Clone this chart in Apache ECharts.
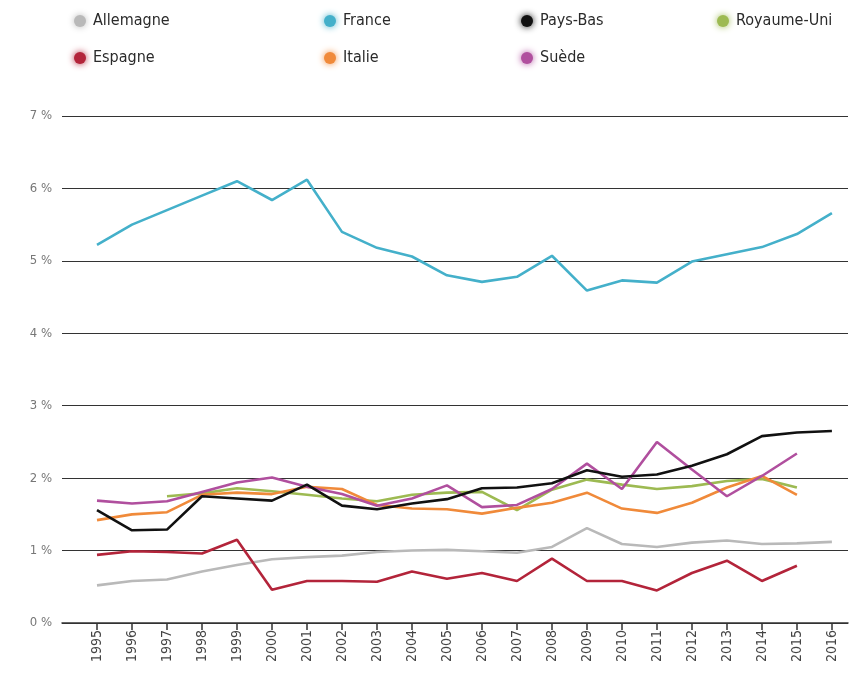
<!DOCTYPE html>
<html>
<head>
<meta charset="utf-8">
<script src="https://cdn.jsdelivr.net/npm/echarts@6/dist/echarts.min.js"></script>
<style>
  html, body { margin: 0; padding: 0; background: #fff; }
  #chart { width: 855px; height: 680px; }
</style>
</head>
<body>
<div id="chart"></div>
<script>
(function () {
  "use strict";

  var YEARS = [1995, 1996, 1997, 1998, 1999, 2000, 2001, 2002, 2003, 2004, 2005,
               2006, 2007, 2008, 2009, 2010, 2011, 2012, 2013, 2014, 2015, 2016];

  var allemagne = [0.52, 0.58, 0.60, 0.71, 0.80, 0.88, 0.91, 0.93, 0.98, 1.00, 1.01,
                   0.99, 0.97, 1.05, 1.31, 1.09, 1.05, 1.11, 1.14, 1.09, 1.10, 1.12];
  var france = [5.22, 5.50, 5.70, 5.90, 6.10, 5.84, 6.12, 5.40, 5.18, 5.06, 4.80,
                4.71, 4.78, 5.07, 4.59, 4.73, 4.70, 4.99, 5.09, 5.19, 5.37, 5.66];
  var paysBas = [1.56, 1.28, 1.29, 1.75, 1.72, 1.69, 1.91, 1.62, 1.57, 1.65, 1.71,
                 1.86, 1.87, 1.93, 2.11, 2.02, 2.05, 2.17, 2.33, 2.58, 2.63, 2.65];
  var royaumeUni = [null, null, 1.75, 1.79, 1.86, 1.82, 1.77, 1.72, 1.68, 1.77, 1.80,
                    1.81, 1.56, 1.84, 1.98, 1.91, 1.85, 1.89, 1.96, 1.99, 1.87, null];
  var espagne = [0.94, 0.99, 0.98, 0.96, 1.15, 0.46, 0.58, 0.58, 0.57, 0.71, 0.61,
                 0.69, 0.58, 0.89, 0.58, 0.58, 0.45, 0.69, 0.86, 0.58, 0.79, null];
  var italie = [1.42, 1.50, 1.53, 1.77, 1.80, 1.78, 1.88, 1.85, 1.63, 1.58, 1.57,
                1.51, 1.59, 1.66, 1.80, 1.58, 1.52, 1.66, 1.87, 2.03, 1.77, null];
  var suede = [1.69, 1.65, 1.68, 1.81, 1.94, 2.01, 1.88, 1.78, 1.62, 1.72, 1.90,
               1.60, 1.63, 1.85, 2.20, 1.85, 2.50, 2.12, 1.75, 2.03, 2.34, null];

  var Y_TICKS = [0, 1, 2, 3, 4, 5, 6, 7];

  var FONT = "'DejaVu Sans Condensed', 'Liberation Sans Narrow', 'Liberation Sans', Arial, sans-serif";

  function pairs(vals) {
    return YEARS.map(function (y, i) { return [y, vals[i]]; });
  }

  var SERIES = [
    { name: "Allemagne", data: allemagne, color: "#b9b9b9" },
    { name: "France", data: france, color: "#44b0ca" },
    { name: "Pays-Bas", data: paysBas, color: "#111111" },
    { name: "Royaume-Uni", data: royaumeUni, color: "#9dba52" },
    { name: "Espagne", data: espagne, color: "#b3243a" },
    { name: "Italie", data: italie, color: "#f08a3a" },
    { name: "Suède", data: suede, color: "#b04f9e" }
  ];

  function colorOf(name) {
    for (var i = 0; i < SERIES.length; i++) if (SERIES[i].name === name) return SERIES[i].color;
    return "#999";
  }

  // one legend per column, markers get a soft halo in their own colour
  function legendCol(left, names) {
    return {
      orient: "vertical",
      left: left,
      top: 8,
      itemGap: 21,
      itemWidth: 12,
      itemHeight: 12,
      icon: "circle",
      selectedMode: false,
      data: names.map(function (n) {
        return { name: n, itemStyle: { shadowBlur: 7, shadowColor: colorOf(n) } };
      }),
      textStyle: { fontFamily: FONT, fontSize: 16, color: "#2a2a2a", padding: [0, 0, 0, 2] }
    };
  }

  var chart = echarts.init(document.getElementById("chart"), null, { renderer: "canvas" });

  chart.setOption({
    backgroundColor: "#fff",
    animation: false,
    legend: [
      legendCol(69, ["Allemagne", "Espagne"]),
      legendCol(319, ["France", "Italie"]),
      legendCol(516, ["Pays-Bas", "Suède"]),
      legendCol(712, ["Royaume-Uni"])
    ],
    grid: { left: 62, right: 7, top: 116, bottom: 57 },
    xAxis: {
      type: "value",
      min: 1994,
      max: 2016.46,
      interval: 1,
      splitLine: { show: false },
      axisLine: { show: true, lineStyle: { color: "#333", width: 1.5 } },
      axisTick: { show: true, customValues: YEARS, length: 7, lineStyle: { color: "#333", width: 1.5 } },
      axisLabel: {
        customValues: YEARS,
        rotate: 90,
        margin: 7,
        fontFamily: FONT,
        fontSize: 14,
        color: "#444",
        formatter: function (v) { return String(v); }
      }
    },
    yAxis: {
      type: "value",
      min: 0,
      max: 7,
      interval: 1,
      axisLine: { show: false },
      axisTick: { show: false },
      axisLabel: {
        margin: 10,
        fontFamily: FONT,
        fontSize: 13,
        color: "#777",
        formatter: function (v) { return Y_TICKS.indexOf(v) >= 0 ? v + " %" : ""; }
      },
      splitLine: { lineStyle: { color: "#333", width: 1.2 } }
    },
    series: SERIES.map(function (s) {
      return {
        name: s.name,
        type: "line",
        data: pairs(s.data),
        color: s.color,
        showSymbol: false,
        symbol: "circle",
        connectNulls: false,
        lineStyle: { width: 2.6, color: s.color },
        itemStyle: { color: s.color },
        z: s.name === "Pays-Bas" ? 3 : 2
      };
    })
  });
})();
</script>
</body>
</html>
